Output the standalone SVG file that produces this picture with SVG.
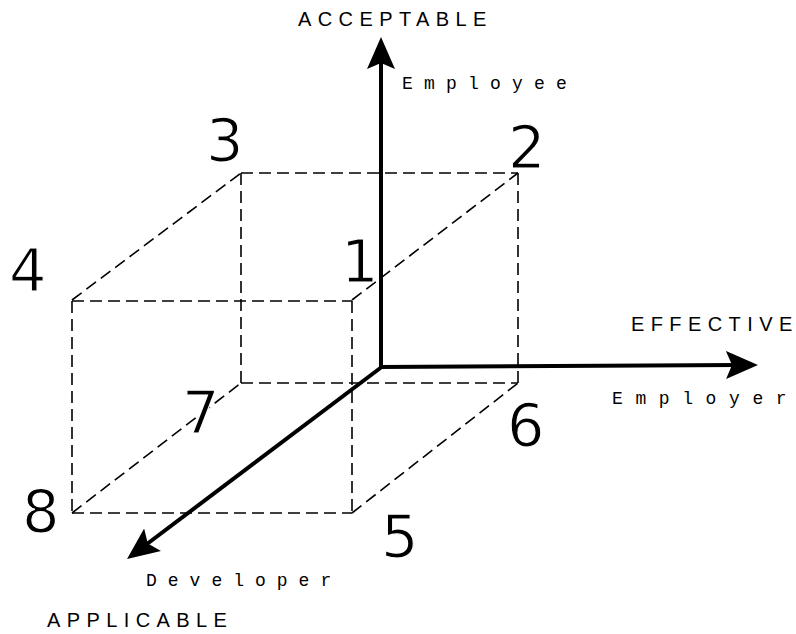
<svg xmlns="http://www.w3.org/2000/svg" width="796" height="634" viewBox="0 0 796 634">
<style>
.dash{stroke:#000;stroke-width:1.6;stroke-dasharray:12 6;fill:none}
.axis{stroke:#000;stroke-width:4;fill:none;marker-end:url(#ah)}
.num{font-family:"DejaVu Sans",sans-serif;font-size:59px;fill:#000;stroke:#fff;stroke-width:1.2px}
.cap{font-family:"Liberation Sans",Arial,sans-serif;font-size:20px;letter-spacing:6.4px;fill:#000}
.mono{font-family:"Liberation Mono","Courier New",monospace;font-size:18px;fill:#000}
.last{letter-spacing:0}
</style>
<defs>
<marker id="ah" viewBox="0 -15 32 30" refX="12" refY="0" markerWidth="32" markerHeight="30" markerUnits="userSpaceOnUse" orient="auto">
<path d="M32,0 L0,-14 L6,0 L0,14 Z" fill="#000"/>
</marker>
</defs>
<rect width="796" height="634" fill="#fff"/>
<g id="cube">
<line class="dash" x1="241" y1="173" x2="518" y2="173"/>
<line class="dash" x1="241" y1="173" x2="241" y2="383"/>
<line class="dash" x1="518" y1="173" x2="518" y2="383"/>
<line class="dash" x1="241" y1="383" x2="518" y2="383"/>
<line class="dash" x1="72" y1="301" x2="352" y2="301"/>
<line class="dash" x1="72" y1="301" x2="72" y2="513"/>
<line class="dash" x1="352" y1="301" x2="352" y2="513"/>
<line class="dash" x1="72" y1="513" x2="352" y2="513"/>
<line class="dash" x1="72" y1="300" x2="241" y2="173"/>
<line class="dash" x1="352" y1="300" x2="518" y2="173"/>
<line class="dash" x1="352" y1="513" x2="518" y2="383"/>
<line class="dash" x1="72" y1="513" x2="241" y2="383"/>
</g>
<g id="connectors">
<line class="axis" x1="381" y1="367" x2="381" y2="57"/>
<line class="axis" x1="379" y1="367" x2="738" y2="365"/>
<line class="axis" x1="383" y1="366" x2="143" y2="547"/>
</g>
<g id="n3"><text class="num" x="206" y="161">3</text></g>
<g id="n2"><text class="num" x="508" y="168">2</text></g>
<g id="n4"><text class="num" x="9" y="291">4</text></g>
<g id="n1"><text class="num" x="341" y="282">1</text></g>
<g id="n7"><text class="num" x="182" y="433">7</text></g>
<g id="n6"><text class="num" x="507" y="446">6</text></g>
<g id="n8"><text class="num" x="22" y="532">8</text></g>
<g id="n5"><text class="num" x="381" y="557">5</text></g>
<g id="labels">
<text class="cap" x="298" y="26">ACCEPTABL<tspan class="last">E</tspan></text>
<text class="cap" x="631" y="331">EFFECTIV<tspan class="last">E</tspan></text>
<text class="cap" x="47" y="627">APPLICABL<tspan class="last">E</tspan></text>
<text class="mono" x="402" y="89" style="letter-spacing:11.2px">Employe<tspan class="last">e</tspan></text>
<text class="mono" x="612" y="404" style="letter-spacing:12.6px">Employe<tspan class="last">r</tspan></text>
<text class="mono" x="146" y="586" style="letter-spacing:11px">Develope<tspan class="last">r</tspan></text>
</g>
</svg>
